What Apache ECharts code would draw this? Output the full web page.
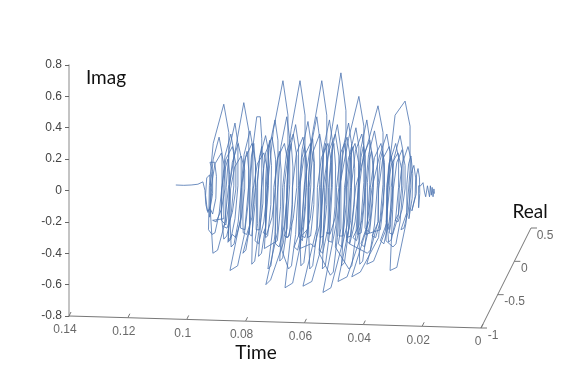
<!DOCTYPE html>
<html><head><meta charset="utf-8">
<style>html,body{margin:0;background:#fff}#c{width:580px;height:368px}</style>
<script src="https://cdn.jsdelivr.net/npm/echarts@6/dist/echarts.min.js"></script>
</head><body><div id="c"></div>
<script>
const imagTicks = [-0.8, -0.6, -0.4, -0.2, 0, 0.2, 0.4, 0.6, 0.8];
const timeTicks = [0.14, 0.12, 0.1, 0.08, 0.06, 0.04, 0.02, 0];
const realTicks = [-1, -0.5, 0, 0.5];
// [time, imag]
const trace = [
[.1037,.035],[.1010,.033],[.0985,.035],[.0962,.04],[.0945,.055],[.0938,0],[.0935,-.09],[.0928,-.14],[.0920,-.10],[.0915,-.01],[.0922,.10],[.0932,.08],[.0936,-.03],[.0930,-.13],[.0921,-.12],[.0912,-.02],[.0912,.12],[.0921,.18],
[.0905,.18],[.0899,.09],[.0901,-.05],[.0912,-.15],[.0919,-.12],
[.0922,-.17],[.0920,.02],[.0910,.20],[.0890,.34],[.0880,.24],[.0880,.03],[.0890,-.15],[.0904,-.27],[.0914,-.28],
[.0926,-.25],[.0923,.03],[.0910,.30],[.0874,.55],[.0857,.37],[.0857,.04],[.0872,-.22],[.0895,-.38],[.0911,-.40],
[.0920,-.12],[.0918,.01],[.0904,.17],[.0882,.24],[.0870,.14],[.0870,.01],[.0882,-.12],[.0900,-.20],[.0912,-.19],
[.0874,-.18],[.0874,.04],[.0868,.15],[.0860,.20],[.0854,.10],[.0856,-.07],[.0867,-.22],
[.0882,-.19],[.0880,.02],[.0870,.22],[.0850,.36],[.0840,.25],[.0840,.03],[.0850,-.17],[.0864,-.29],[.0874,-.31],
[.0883,-.14],[.0881,.01],[.0867,.20],[.0845,.28],[.0833,.17],[.0833,.01],[.0845,-.14],[.0863,-.24],[.0875,-.23],
[.0868,-.20],[.0866,.02],[.0856,.26],[.0836,.43],[.0826,.30],[.0826,.03],[.0836,-.18],[.0850,-.31],[.0860,-.33],
[.0857,-.22],[.0855,.02],[.0845,.18],[.0825,.30],[.0815,.21],[.0815,.02],[.0825,-.20],[.0839,-.34],[.0849,-.36],
[.0853,-.18],[.0851,.01],[.0837,.15],[.0815,.22],[.0803,.13],[.0803,.01],[.0815,-.18],[.0833,-.30],[.0845,-.28],
[.0858,-.32],[.0855,.03],[.0830,.31],[.0806,.56],[.0789,.38],[.0789,.04],[.0804,-.28],[.0827,-.48],[.0853,-.51],
[.0816,-.17],[.0814,.02],[.0800,.21],[.0778,.30],[.0766,.18],[.0766,.02],[.0778,-.17],[.0796,-.28],[.0808,-.27],
[.0809,-.20],[.0809,.05],[.0803,.19],[.0795,.25],[.0789,.13],[.0791,-.08],[.0802,-.25],
[.0817,-.24],[.0815,.02],[.0805,.23],[.0785,.38],[.0775,.27],[.0775,.03],[.0785,-.22],[.0799,-.38],[.0809,-.40],
[.0786,-.24],[.0786,.06],[.0780,.22],[.0772,.30],[.0766,.15],[.0768,-.09],[.0779,-.29],
[.0787,-.28],[.0785,.02],[.0775,.28],[.0762,.47],[.0750,.47],[.0745,.33],[.0745,.04],[.0755,-.26],[.0769,-.45],[.0779,-.47],
[.0776,-.20],[.0774,.01],[.0760,.17],[.0738,.24],[.0726,.14],[.0726,.01],[.0738,-.20],[.0756,-.34],[.0768,-.32],
[.0759,-.21],[.0759,.06],[.0753,.21],[.0745,.28],[.0739,.14],[.0741,-.08],[.0752,-.25],
[.0764,-.25],[.0762,.02],[.0752,.21],[.0732,.35],[.0722,.25],[.0722,.03],[.0732,-.23],[.0746,-.40],[.0756,-.42],
[.0748,-.17],[.0746,.02],[.0732,.24],[.0710,.34],[.0698,.20],[.0698,.02],[.0710,-.17],[.0728,-.28],[.0740,-.27],
[.0732,-.24],[.0732,.06],[.0726,.24],[.0718,.32],[.0712,.16],[.0714,-.09],[.0725,-.29],
[.0732,-.30],[.0730,.02],[.0720,.27],[.0700,.45],[.0690,.32],[.0690,.04],[.0700,-.28],[.0714,-.48],[.0724,-.50],
[.0706,-.22],[.0704,.02],[.0690,.21],[.0668,.30],[.0656,.18],[.0656,.02],[.0668,-.22],[.0686,-.36],[.0698,-.34],
[.0699,-.26],[.0699,.05],[.0693,.19],[.0685,.25],[.0679,.13],[.0681,-.10],[.0692,-.32],
[.0736,-.37],[.0725,.04],[.0705,.39],[.0673,.70],[.0656,.48],[.0656,.06],[.0671,-.33],[.0715,-.57],[.0731,-.60],
[.0692,-.27],[.0690,.02],[.0680,.28],[.0660,.47],[.0650,.33],[.0650,.04],[.0660,-.25],[.0674,-.43],[.0684,-.45],
[.0676,-.18],[.0674,.02],[.0660,.25],[.0638,.36],[.0626,.22],[.0626,.02],[.0638,-.18],[.0656,-.30],[.0668,-.29],
[.0659,-.24],[.0659,.06],[.0653,.22],[.0645,.30],[.0639,.15],[.0641,-.09],[.0652,-.29],
[.0662,-.30],[.0660,.02],[.0650,.25],[.0630,.42],[.0620,.29],[.0620,.03],[.0630,-.28],[.0644,-.48],[.0654,-.50],
[.0677,-.38],[.0668,.04],[.0645,.39],[.0615,.70],[.0598,.48],[.0598,.06],[.0613,-.34],[.0640,-.59],[.0666,-.62],
[.0643,-.23],[.0641,.02],[.0627,.24],[.0605,.34],[.0593,.20],[.0593,.02],[.0605,-.23],[.0623,-.38],[.0635,-.36],
[.0614,-.26],[.0614,.06],[.0608,.21],[.0600,.28],[.0594,.14],[.0596,-.10],[.0607,-.32],
[.0620,-.29],[.0618,.02],[.0608,.26],[.0588,.44],[.0578,.31],[.0578,.04],[.0588,-.26],[.0602,-.46],[.0612,-.48],
[.0618,-.18],[.0616,.02],[.0602,.21],[.0580,.30],[.0568,.18],[.0568,.02],[.0580,-.18],[.0598,-.30],[.0610,-.29],
[.0586,-.24],[.0586,.07],[.0580,.25],[.0572,.33],[.0566,.17],[.0568,-.09],[.0579,-.29],
[.0590,-.30],[.0588,.02],[.0578,.28],[.0558,.47],[.0548,.33],[.0548,.04],[.0558,-.28],[.0572,-.48],[.0582,-.50],
[.0586,-.22],[.0584,.02],[.0570,.25],[.0548,.36],[.0536,.22],[.0536,.02],[.0548,-.22],[.0566,-.36],[.0578,-.34],
[.0615,-.37],[.0600,.04],[.0570,.39],[.0541,.70],[.0524,.48],[.0524,.06],[.0539,-.34],[.0575,-.58],[.0605,-.61],
[.0558,-.24],[.0556,.02],[.0542,.21],[.0520,.30],[.0508,.18],[.0508,.02],[.0520,-.24],[.0538,-.40],[.0550,-.38],
[.0542,-.24],[.0542,.06],[.0536,.22],[.0528,.30],[.0522,.15],[.0524,-.09],[.0535,-.29],
[.0547,-.30],[.0545,.02],[.0535,.27],[.0515,.45],[.0505,.32],[.0505,.04],[.0515,-.28],[.0529,-.48],[.0539,-.50],
[.0533,-.17],[.0531,.02],[.0517,.25],[.0495,.36],[.0483,.22],[.0483,.02],[.0495,-.17],[.0513,-.28],[.0525,-.27],
[.0514,-.27],[.0514,.06],[.0508,.22],[.0500,.30],[.0494,.15],[.0496,-.10],[.0507,-.33],
[.0520,-.32],[.0518,.02],[.0508,.25],[.0488,.42],[.0478,.29],[.0478,.03],[.0488,-.30],[.0502,-.52],[.0512,-.54],
[.0550,-.40],[.0535,.04],[.0505,.41],[.0476,.75],[.0459,.51],[.0459,.06],[.0474,-.36],[.0510,-.62],[.0537,-.65],
[.0493,-.22],[.0491,.02],[.0477,.24],[.0455,.34],[.0443,.20],[.0443,.02],[.0455,-.22],[.0473,-.36],[.0485,-.34],
[.0476,-.24],[.0476,.06],[.0470,.22],[.0462,.30],[.0456,.15],[.0458,-.09],[.0469,-.29],
[.0482,-.29],[.0480,.02],[.0470,.26],[.0450,.43],[.0440,.30],[.0440,.03],[.0450,-.26],[.0464,-.46],[.0474,-.48],
[.0466,-.20],[.0464,.02],[.0450,.21],[.0428,.30],[.0416,.18],[.0416,.02],[.0428,-.20],[.0446,-.34],[.0458,-.32],
[.0449,-.24],[.0449,.06],[.0443,.21],[.0435,.28],[.0429,.14],[.0431,-.09],[.0442,-.29],
[.0457,-.30],[.0455,.02],[.0445,.24],[.0425,.40],[.0415,.28],[.0415,.03],[.0425,-.28],[.0439,-.48],[.0449,-.50],
[.0495,-.36],[.0480,.03],[.0450,.33],[.0415,.60],[.0398,.41],[.0398,.05],[.0413,-.32],[.0455,-.55],[.0486,-.58],
[.0443,-.19],[.0441,.02],[.0427,.25],[.0405,.36],[.0393,.22],[.0393,.02],[.0405,-.19],[.0423,-.32],[.0435,-.30],
[.0414,-.22],[.0414,.06],[.0408,.21],[.0400,.28],[.0394,.14],[.0396,-.08],[.0407,-.27],
[.0420,-.28],[.0418,.02],[.0408,.27],[.0388,.45],[.0378,.32],[.0378,.04],[.0388,-.26],[.0402,-.45],[.0412,-.47],
[.0416,-.22],[.0414,.02],[.0400,.22],[.0378,.32],[.0366,.19],[.0366,.02],[.0378,-.22],[.0396,-.36],[.0408,-.34],
[.0386,-.22],[.0386,.05],[.0380,.19],[.0372,.25],[.0366,.13],[.0368,-.08],[.0379,-.27],
[.0394,-.24],[.0392,.02],[.0382,.23],[.0362,.38],[.0352,.27],[.0352,.03],[.0362,-.22],[.0376,-.38],[.0386,-.40],
[.0447,-.34],[.0425,.03],[.0385,.30],[.0350,.54],[.0333,.37],[.0333,.04],[.0348,-.30],[.0410,-.52],[.0439,-.55],
[.0378,-.18],[.0376,.02],[.0362,.21],[.0340,.30],[.0328,.18],[.0328,.02],[.0340,-.18],[.0358,-.30],[.0370,-.29],
[.0349,-.20],[.0349,.05],[.0343,.19],[.0335,.25],[.0329,.13],[.0331,-.08],[.0342,-.25],
[.0392,-.28],[.0370,.02],[.0345,.22],[.0320,.36],[.0310,.25],[.0310,.03],[.0325,-.26],[.0365,-.45],[.0388,-.47],
[.0350,-.20],[.0348,.01],[.0334,.20],[.0312,.28],[.0300,.17],[.0300,.01],[.0312,-.20],[.0330,-.34],[.0342,-.32],
[.0319,-.20],[.0319,.04],[.0313,.17],[.0305,.22],[.0299,.11],[.0301,-.08],[.0312,-.25],
[.0322,-.20],[.0320,.02],[.0310,.18],[.0290,.30],[.0280,.21],[.0280,.02],[.0290,-.18],[.0304,-.31],[.0314,-.33],
[.0320,-.17],[.0318,.01],[.0304,.17],[.0282,.24],[.0270,.14],[.0270,.01],[.0282,-.17],[.0300,-.28],[.0312,-.27],
[.0307,-.22],[.0305,.02],[.0295,.21],[.0275,.35],[.0265,.25],[.0265,.03],[.0275,-.20],[.0289,-.34],[.0299,-.36],
[.0323,-.32],[.0313,.13],[.0292,.48],[.0258,.57],[.0241,.41],[.0241,.13],[.0255,-.21],[.0286,-.49],[.0309,-.51],
[.0300,-.12],[.0298,.01],[.0286,.18],[.0268,.26],[.0258,.16],[.0258,.01],[.0268,-.12],[.0282,-.20],[.0292,-.19],
[.0280,-.15],[.0278,.01],[.0268,.17],[.0248,.28],[.0238,.20],[.0238,.02],[.0248,-.14],[.0262,-.24],[.0272,-.25],
[.0252,-.14],[.0252,.04],[.0246,.17],[.0238,.22],[.0232,.11],[.0234,-.05],[.0245,-.18],
[.0242,-.10],[.0242,.03],[.0236,.12],[.0228,.16],[.0222,.08],[.0224,-.04],[.0235,-.13],
[.0220,-.02],[.0219,.10],[.0214,.14],[.0209,.08],[.0208,-.02],[.0212,-.11],[.0218,-.12],
[.0212,.03],[.0205,.03],[.0197,.05],[.0192,-.01],[.0188,-.04],[.0182,.03],[.0178,.02],[.0175,-.04],[.0172,.03],[.0169,-.03],[.0166,.02],[.0163,-.04],[.0160,.01],[.0158,-.02]
];

// Screen layout of the plot box; the slanted floor axes are expressed in data units through it.
const plot = {left: 69, right: 481, top: 65, bottom: 316};
const perPxT = 0.14 / (plot.right - plot.left), perPxY = 1.6 / (plot.bottom - plot.top);
const timeFloor = -0.02;
const floorDrop = 12, realDx = 50, realDy = 100;
const timePoint = t => [t, -0.8 - (0.14 - t) / 0.14 * floorDrop * perPxY];
const realPoint = r => {
  const f = (r + 1) / 1.5, b = timePoint(0);
  return [b[0] - f * realDx * perPxT, b[1] + f * realDy * perPxY];
};
const shift = (p, dx, dy) => [p[0] - dx * perPxT, p[1] - dy * perPxY];

const axisLinePath = [...timeTicks.map(timePoint), realPoint(-1), realPoint(0.5)];
const tickPath = [];
timeTicks.forEach(t => { const p = timePoint(t); tickPath.push(p, shift(p, 2, -4), [null, null]); });
realTicks.forEach(r => { const p = realPoint(r); tickPath.push(p, shift(p, 6, 0), [null, null]); });

const labelFont = {fontFamily: 'Liberation Sans', fontSize: 12, color: '#444'};
const realLabelOffset = {'-1': [12, 8], '-0.5': [17, 7], '0': [10, 7], '0.5': [14, 8]};
const lineBase = {type: 'line', showSymbol: false, symbol: 'none', clip: false, silent: true, animation: false, z: 3};
const labelBase = {type: 'scatter', clip: false, silent: true, symbolSize: 1, itemStyle: {color: 'rgba(0,0,0,0)'}};
const heading = (text, x, y) => ({type: 'text', x, y, style: {text, fontFamily: 'Lato', fontSize: 19, fill: '#111', textAlign: 'center', textVerticalAlign: 'middle'}});

const chart = echarts.init(document.getElementById('c'), null, {renderer: 'canvas'});
chart.setOption({
  animation: false,
  backgroundColor: '#fff',
  grid: {left: plot.left, right: 580 - (plot.right - timeFloor / perPxT), top: plot.top, bottom: 368 - plot.bottom, containLabel: false},
  xAxis: {type: 'value', inverse: true, min: timeFloor, max: 0.14, interval: 0.02, show: false},
  yAxis: {type: 'value', min: -0.8, max: 0.8, interval: 0.2,
    splitLine: {show: false},
    axisLine: {show: true, onZero: false, lineStyle: {color: '#b0b0b0', width: 1.5}},
    axisTick: {show: true, length: 4, lineStyle: {color: '#666', width: 1}},
    axisLabel: {margin: 7, fontFamily: 'Liberation Sans', fontSize: 12, color: '#444'}},
  graphic: [heading('Imag', 106, 78), heading('Real', 530, 212), heading('Time', 256, 353)],
  series: [
    {...lineBase, name: 'Trace', data: trace, lineStyle: {color: '#4a72b0', width: 0.8}},
    {...lineBase, name: 'Floor axes', data: axisLinePath, lineStyle: {color: '#777', width: 1}},
    {...lineBase, name: 'Floor ticks', data: tickPath, connectNulls: false, lineStyle: {color: '#777', width: 1}},
    {...labelBase, name: 'Time labels', data: timeTicks.map(t => ({value: timePoint(t),
      label: {show: true, position: 'inside', offset: [t === 0 ? -3 : -4, 14], formatter: String(t), ...labelFont}}))},
    {...labelBase, name: 'Real labels', data: realTicks.map(r => ({value: realPoint(r),
      label: {show: true, position: 'inside', offset: realLabelOffset[r], formatter: String(r), ...labelFont}}))}
  ]
});
</script></body></html>
